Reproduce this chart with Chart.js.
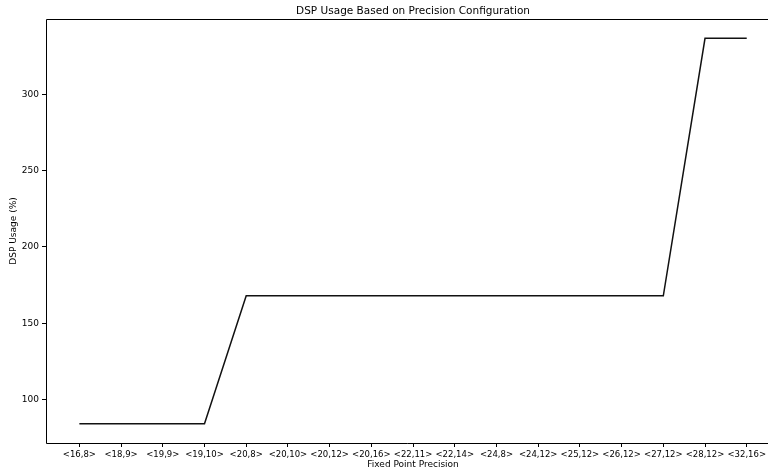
<!DOCTYPE html>
<html>
<head>
  <title>DSP Usage</title>
  <style>
    body { margin: 0; background: #fff; }
    #wrap { width: 768px; height: 472px; }
  </style>
</head>
<body>
  <div id="wrap"><canvas id="chart" width="768" height="472"></canvas></div>
  <script src="https://cdn.jsdelivr.net/npm/chart.js"></script>
  <script>
    const precisions = ["<16,8>", "<18,9>", "<19,9>", "<19,10>", "<20,8>", "<20,10>", "<20,12>", "<20,16>",
      "<22,11>", "<22,14>", "<24,8>", "<24,12>", "<25,12>", "<26,12>", "<27,12>", "<28,12>", "<32,16>"];
    const dspUsage = [84, 84, 84, 84, 168, 168, 168, 168, 168, 168, 168, 168, 168, 168, 168, 337, 337];
    const yTicks = [100, 150, 200, 250, 300];
    const chartTitle = 'DSP Usage Based on Precision Configuration';
    const xTitle = 'Fixed Point Precision';

    const font = "'DejaVu Sans', sans-serif";

    // the figure is cut off on the right, so the axes run past the canvas edge;
    // spines + titles are centred on the full axes like matplotlib
    const frame = {
      id: 'frame',
      afterDraw(c) {
        const a = c.chartArea, ctx = c.ctx;
        const l = Math.round(a.left) + 0.5, t = Math.round(a.top) + 0.5, b = Math.round(a.bottom) + 0.5;
        ctx.save();
        ctx.strokeStyle = '#000';
        ctx.lineWidth = 1;
        ctx.beginPath();
        ctx.moveTo(c.width, t); ctx.lineTo(l, t); ctx.lineTo(l, b); ctx.lineTo(c.width, b);
        ctx.stroke();
        const mid = c.scales.x.getPixelForValue(8);
        ctx.fillStyle = '#000';
        ctx.textAlign = 'center';
        ctx.textBaseline = 'middle';
        ctx.font = "10.5px " + font;
        ctx.fillText(chartTitle, mid, 11);
        ctx.font = "9px " + font;
        ctx.fillText(xTitle, mid, 465);
        ctx.restore();
      }
    };

    const noPadX = s => { s.height = 29; s.paddingLeft = 0; s.paddingRight = 0; };
    const noPadY = s => { s.width = 46; s.paddingTop = 0; s.paddingBottom = 0; };

    new Chart(document.getElementById('chart'), {
      type: 'line',
      data: {
        datasets: [{
          data: dspUsage.map((v, i) => ({ x: i, y: v })),
          borderColor: '#111',
          borderWidth: 1.5,
          pointRadius: 0,
          tension: 0
        }]
      },
      options: {
        responsive: false,
        animation: false,
        layout: { padding: { left: 0, right: 0, top: 19, bottom: 0 } },
        plugins: {
          legend: { display: false },
          tooltip: { enabled: false },
          title: { display: false }
        },
        scales: {
          x: {
            type: 'linear',
            min: -0.8,
            max: 16.51,
            afterBuildTicks: s => { s.ticks = precisions.map((_, i) => ({ value: i })); },
            afterFit: noPadX,
            ticks: {
              autoSkip: false,
              maxRotation: 0,
              color: '#000',
              padding: 3,
              font: { family: font, size: 8.5 },
              callback: v => precisions[v]
            },
            grid: { drawOnChartArea: false, tickLength: 4, color: '#000' },
            border: { display: false }
          },
          y: {
            min: 71.35,
            max: 349.65,
            afterBuildTicks: s => { s.ticks = yTicks.map(v => ({ value: v })); },
            afterFit: noPadY,
            ticks: {
              color: '#000',
              padding: 3,
              font: { family: font, size: 9 }
            },
            grid: { drawOnChartArea: false, tickLength: 4, color: '#000' },
            border: { display: false },
            title: {
              display: true,
              text: 'DSP Usage (%)',
              color: '#000',
              font: { family: font, size: 9 },
              padding: { top: 8, bottom: 0 }
            }
          }
        }
      },
      plugins: [frame]
    });
  </script>
</body>
</html>
